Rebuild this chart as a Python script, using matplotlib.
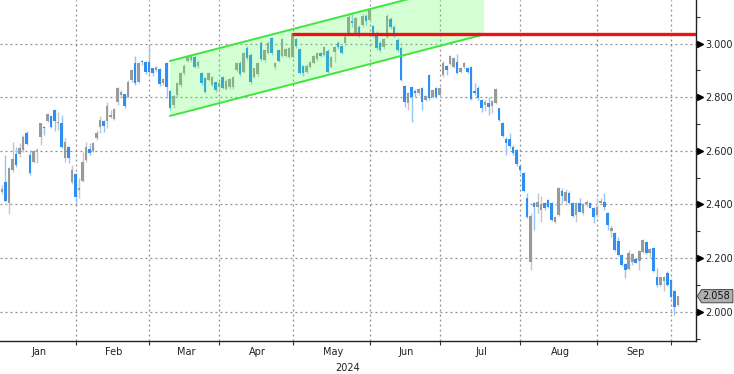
import matplotlib
matplotlib.use("Agg")
import matplotlib.pyplot as plt
from matplotlib.patches import Rectangle, Polygon

# trading days per month (TARGET calendar), last entry = first days of Oct
months = ["Jan", "Feb", "Mar", "Apr", "May", "Jun", "Jul", "Aug", "Sep"]
month_days = [22, 21, 20, 21, 22, 20, 23, 22, 21, 2]

opens = [
    # Jan
    2.447, 2.485, 2.404, 2.528, 2.588, 2.588, 2.603, 2.668, 2.584, 2.559, 2.599,
    2.653, 2.690, 2.712, 2.730, 2.752, 2.702, 2.702, 2.572, 2.615, 2.485, 2.513,
    # Feb
    2.454, 2.489, 2.565, 2.605, 2.600, 2.646, 2.690, 2.712, 2.712, 2.727, 2.717,
    2.783, 2.808, 2.810, 2.802, 2.864, 2.928, 2.858, 2.936, 2.930, 2.930,
    # Mar
    2.907, 2.901, 2.904, 2.851, 2.928, 2.823, 2.771, 2.808, 2.845, 2.889,
    2.936, 2.938, 2.951, 2.916, 2.889, 2.870, 2.864, 2.845, 2.855, 2.839,
    # Apr
    2.874, 2.829, 2.836, 2.836, 2.901, 2.929, 2.895, 2.982, 2.957, 2.876, 2.886,
    3.003, 2.939, 2.963, 3.019, 2.911, 2.976, 2.953, 2.953, 2.951, 2.951,
    # May
    3.016, 2.978, 2.916, 2.895, 2.914, 2.929, 2.941, 2.966, 2.957, 2.973, 2.914,
    2.970, 3.003, 2.991, 3.001, 3.038, 3.085, 3.040, 3.060, 3.069, 3.102, 3.088,
    # Jun
    3.065, 3.040, 3.003, 2.988, 3.023, 3.090, 3.063, 3.013, 2.982, 2.842,
    2.777, 2.837, 2.824, 2.814, 2.833, 2.789, 2.882, 2.802, 2.833, 2.808,
    # Jul
    2.882, 2.916, 2.925, 2.914, 2.932, 2.895, 2.911, 2.907, 2.911, 2.824, 2.833,
    2.789, 2.771, 2.777, 2.767, 2.779, 2.758, 2.705, 2.643, 2.644, 2.615, 2.603, 2.543,
    # Aug
    2.518, 2.423, 2.186, 2.404, 2.392, 2.380, 2.404, 2.416, 2.404, 2.336, 2.360,
    2.451, 2.414, 2.444, 2.406, 2.360, 2.404, 2.367, 2.401, 2.404, 2.385, 2.360,
    # Sep
    2.406, 2.410, 2.367, 2.302, 2.292, 2.265, 2.211, 2.178, 2.158, 2.186, 2.195,
    2.190, 2.224, 2.261, 2.218, 2.236, 2.131, 2.100, 2.116, 2.144, 2.118,
    # Oct
    2.078, 2.025,
]

highs = [
    2.472, 2.584, 2.540, 2.631, 2.613, 2.628, 2.658, 2.672, 2.603, 2.603, 2.609,
    2.704, 2.692, 2.742, 2.733, 2.755, 2.746, 2.733, 2.646, 2.618, 2.547, 2.516,
    2.497, 2.597, 2.634, 2.630, 2.634, 2.677, 2.730, 2.715, 2.783, 2.752, 2.758,
    2.839, 2.827, 2.813, 2.864, 2.905, 2.953, 2.932, 2.940, 2.935, 2.994,
    2.910, 2.915, 2.910, 2.870, 2.932, 2.827, 2.808, 2.858, 2.895, 2.922,
    2.957, 2.960, 2.957, 2.940, 2.895, 2.876, 2.893, 2.880, 2.860, 2.860,
    2.879, 2.866, 2.870, 2.880, 2.930, 2.935, 2.970, 2.990, 2.965, 2.910, 2.930,
    3.010, 2.980, 3.010, 3.025, 2.930, 2.980, 3.020, 2.985, 2.988, 3.040,
    3.020, 2.982, 2.920, 2.922, 2.936, 2.958, 2.970, 2.970, 2.990, 2.978, 2.955,
    2.992, 3.008, 2.995, 3.030, 3.112, 3.119, 3.100, 3.070, 3.110, 3.110, 3.131,
    3.070, 3.045, 3.010, 3.020, 3.110, 3.100, 3.070, 3.020, 2.990, 2.846,
    2.820, 2.840, 2.830, 2.835, 2.838, 2.808, 2.885, 2.832, 2.838, 2.838,
    2.936, 2.920, 2.958, 2.950, 2.961, 2.912, 2.930, 2.912, 2.915, 2.851, 2.840,
    2.792, 2.792, 2.799, 2.790, 2.835, 2.760, 2.708, 2.653, 2.667, 2.620, 2.608, 2.546,
    2.522, 2.441, 2.367, 2.410, 2.444, 2.430, 2.410, 2.419, 2.408, 2.358, 2.465,
    2.460, 2.456, 2.450, 2.410, 2.410, 2.423, 2.405, 2.416, 2.408, 2.390, 2.423,
    2.423, 2.441, 2.370, 2.323, 2.296, 2.280, 2.215, 2.182, 2.230, 2.219, 2.199,
    2.231, 2.271, 2.265, 2.236, 2.240, 2.162, 2.131, 2.134, 2.150, 2.122,
    2.082, 2.060,
]

lows = [
    2.439, 2.410, 2.364, 2.522, 2.541, 2.578, 2.597, 2.621, 2.510, 2.553, 2.553,
    2.621, 2.659, 2.709, 2.684, 2.675, 2.678, 2.609, 2.559, 2.553, 2.478, 2.404,
    2.423, 2.485, 2.559, 2.584, 2.597, 2.640, 2.665, 2.671, 2.684, 2.721, 2.715,
    2.771, 2.802, 2.761, 2.796, 2.858, 2.845, 2.852, 2.920, 2.888, 2.883,
    2.880, 2.895, 2.843, 2.845, 2.796, 2.752, 2.758, 2.800, 2.839, 2.883,
    2.930, 2.932, 2.907, 2.910, 2.845, 2.814, 2.860, 2.840, 2.820, 2.830,
    2.829, 2.825, 2.830, 2.830, 2.895, 2.880, 2.890, 2.940, 2.850, 2.870, 2.880,
    2.935, 2.930, 2.960, 2.957, 2.905, 2.930, 2.950, 2.948, 2.945, 2.945,
    2.985, 2.885, 2.880, 2.890, 2.908, 2.924, 2.936, 2.948, 2.952, 2.890, 2.908,
    2.932, 2.980, 2.960, 2.995, 3.030, 3.063, 3.035, 3.025, 3.060, 3.070, 3.081,
    3.025, 2.975, 2.970, 2.980, 3.020, 3.055, 3.025, 2.970, 2.860, 2.765,
    2.752, 2.708, 2.800, 2.808, 2.752, 2.784, 2.790, 2.797, 2.797, 2.803,
    2.876, 2.882, 2.920, 2.910, 2.885, 2.890, 2.906, 2.890, 2.790, 2.808, 2.790,
    2.746, 2.749, 2.733, 2.740, 2.775, 2.710, 2.650, 2.584, 2.610, 2.585, 2.545, 2.516,
    2.446, 2.348, 2.155, 2.305, 2.367, 2.335, 2.380, 2.388, 2.338, 2.330, 2.355,
    2.404, 2.404, 2.400, 2.352, 2.336, 2.370, 2.362, 2.392, 2.385, 2.330, 2.354,
    2.404, 2.380, 2.305, 2.280, 2.226, 2.207, 2.170, 2.124, 2.154, 2.174, 2.180,
    2.155, 2.220, 2.216, 2.205, 2.149, 2.093, 2.096, 2.078, 2.095, 2.050,
    1.988, 2.020,
]

closes = [
    2.456, 2.414, 2.537, 2.569, 2.547, 2.609, 2.653, 2.625, 2.516, 2.599, 2.603,
    2.702, 2.684, 2.737, 2.690, 2.712, 2.709, 2.615, 2.634, 2.572, 2.528, 2.426,
    2.460, 2.559, 2.615, 2.590, 2.628, 2.665, 2.715, 2.692, 2.767, 2.733, 2.754,
    2.833, 2.820, 2.767, 2.858, 2.901, 2.851, 2.926, 2.930, 2.893, 2.895,
    2.889, 2.911, 2.849, 2.866, 2.839, 2.758, 2.804, 2.851, 2.889, 2.916,
    2.951, 2.953, 2.914, 2.932, 2.851, 2.820, 2.889, 2.876, 2.827, 2.854,
    2.833, 2.861, 2.866, 2.876, 2.926, 2.886, 2.963, 2.945, 2.858, 2.907, 2.926,
    2.941, 2.976, 3.001, 2.963, 2.926, 2.936, 3.016, 2.978, 2.982, 3.038,
    2.991, 2.891, 2.889, 2.916, 2.932, 2.953, 2.966, 2.953, 2.986, 2.895, 2.951,
    2.988, 2.988, 2.966, 3.023, 3.100, 3.078, 3.094, 3.032, 3.102, 3.085, 3.125,
    3.032, 2.982, 2.976, 3.016, 3.102, 3.063, 3.032, 2.976, 2.864, 2.783,
    2.817, 2.802, 2.814, 2.829, 2.783, 2.804, 2.796, 2.827, 2.802, 2.833,
    2.926, 2.901, 2.953, 2.945, 2.889, 2.907, 2.926, 2.895, 2.792, 2.817, 2.796,
    2.758, 2.783, 2.764, 2.787, 2.829, 2.715, 2.655, 2.630, 2.618, 2.590, 2.551, 2.528,
    2.451, 2.352, 2.357, 2.392, 2.410, 2.400, 2.385, 2.392, 2.342, 2.354, 2.460,
    2.431, 2.448, 2.406, 2.357, 2.404, 2.373, 2.401, 2.408, 2.388, 2.354, 2.392,
    2.412, 2.392, 2.323, 2.312, 2.230, 2.211, 2.174, 2.155, 2.220, 2.215, 2.183,
    2.227, 2.267, 2.220, 2.233, 2.153, 2.100, 2.128, 2.131, 2.100, 2.056,
    2.019, 2.058,
]

# annotations: trend channel (day index, level) and resistance line
channel_start, channel_end = 48.0, 137.7
channel_lower = (2.730, 3.034)
channel_upper = (2.935, 3.239)
resistance_level = 3.035
resistance_start = 82.8

UP_BODY, UP_WICK = "#9a9a9a", "#c6c6c6"
DN_BODY, DN_WICK = "#2f8ef2", "#93c6f6"

fig = plt.figure(figsize=(7.34, 3.74), dpi=100)
ax = fig.add_axes([0.0, 0.0882, 0.9482, 0.9118])

# candles
for i, (o, h, l, c) in enumerate(zip(opens, highs, lows, closes)):
    up = c >= o
    ax.plot([i, i], [l, h], color=UP_WICK if up else DN_WICK, lw=1.0,
            solid_capstyle="butt", zorder=2)
    ax.add_patch(Rectangle((i - 0.36, min(o, c)), 0.72, max(abs(c - o), 0.004),
                           facecolor=UP_BODY if up else DN_BODY,
                           edgecolor="none", zorder=3))

# channel
ax.add_patch(Polygon([(channel_start, channel_lower[0]), (channel_end, channel_lower[1]),
                      (channel_end, channel_upper[1]), (channel_start, channel_upper[0])],
                     closed=True, facecolor="#55ff55", alpha=0.25, edgecolor="none",
                     zorder=4))
ax.plot([channel_start, channel_end], channel_lower, color="#3ee63e", lw=1.4, zorder=5)
ax.plot([channel_start, channel_end], channel_upper, color="#3ee63e", lw=1.4, zorder=5)

# resistance
ax.plot([resistance_start, 199], [resistance_level] * 2, color="#ee1111", lw=2.4,
        zorder=6, solid_capstyle="butt")

# month boundaries
month_last = []
month_mid = []
start = 0
for n in month_days:
    month_last.append(start + n - 1)
    month_mid.append(start + (n - 1) / 2)
    start += n

ax.set_xlim(-0.57, 198.2)
ax.set_ylim(1.8907, 3.1622)

ax.set_xticks(month_last[:-1])
ax.set_xticklabels([])
ax.tick_params(axis="x", direction="out", length=3, width=0.8, color="#333")
for x in month_last[:-1]:
    ax.axvline(x, color="#8c8c8c", lw=0.9, ls=(0, (1.5, 2.5)), zorder=1)

yt = [2.0, 2.2, 2.4, 2.6, 2.8, 3.0]
for y in yt:
    ax.axhline(y, color="#8c8c8c", lw=0.9, ls=(0, (1.5, 2.5)), zorder=1)

ax.yaxis.tick_right()
ax.set_yticks(yt)
ax.set_yticklabels([f"{v:.3f}" for v in yt])
ax.set_yticks([1.9, 2.1, 2.3, 2.5, 2.7, 2.9, 3.1], minor=True)
ax.tick_params(axis="y", which="major", length=0, pad=6.5, labelsize=7,
               labelcolor="#222")
ax.tick_params(axis="y", which="minor", length=3, width=0.8, color="#333")
ax.plot([1.006] * len(yt), yt, ls="none", marker=">", ms=4, color="black",
        transform=ax.get_yaxis_transform(), clip_on=False)

for s in ["left", "top"]:
    ax.spines[s].set_visible(False)
for s in ["right", "bottom"]:
    ax.spines[s].set_color("#222")
    ax.spines[s].set_linewidth(1.0)

for name, xm in zip(months, month_mid):
    ax.text(xm, -0.033, name, transform=ax.get_xaxis_transform(), ha="center",
            va="center", fontsize=7, color="#222")
ax.text(0.5, -0.078, "2024", transform=ax.transAxes, ha="center", va="center",
        fontsize=7, color="#222")

# last price tag
last = closes[-1]
d = 0.0245
tr = ax.get_yaxis_transform()
ax.add_patch(Polygon([(1.002, last), (1.008, last + d), (1.053, last + d),
                      (1.053, last - d), (1.008, last - d)], closed=True,
                     transform=tr, facecolor="#b0b0b0", edgecolor="#555",
                     lw=0.8, clip_on=False, zorder=10))
ax.text(1.0295, last, f"{last:.3f}", transform=tr, ha="center", va="center",
        fontsize=7, color="#111", zorder=11)

fig.savefig("out.png", dpi=100)
